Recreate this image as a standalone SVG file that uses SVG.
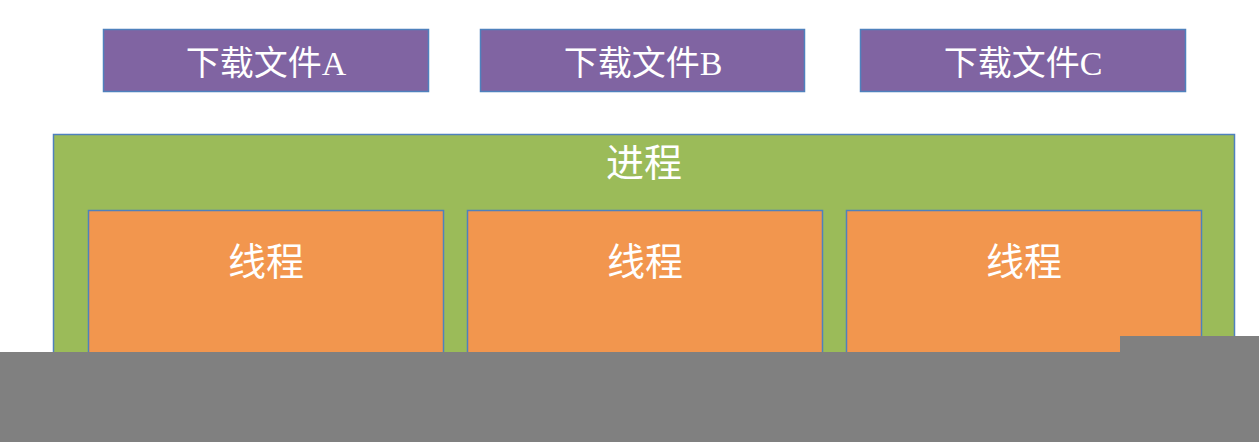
<svg xmlns="http://www.w3.org/2000/svg" width="1259" height="442" viewBox="0 0 1259 442">
<style>
.file rect{fill:#8064A2;stroke:#4F81BD;stroke-width:1.5}
.file text{fill:#fff;font-family:"Liberation Serif","Noto Sans CJK SC",serif;font-size:34px;text-anchor:middle}
.thread rect{fill:#F2964E;stroke:#4F81BD;stroke-width:1.5}
.thread text,#process text{fill:#fff;font-family:"Liberation Serif","Noto Sans CJK SC",serif;font-size:38px;text-anchor:middle}
#process rect{fill:#9BBB59;stroke:#4F81BD;stroke-width:1.5}
</style>
<rect width="1259" height="442" fill="#fff"/>
<g id="fileA" class="file"><rect x="103.5" y="29.5" width="325" height="62"/><text x="266" y="75">下载文件A</text></g>
<g id="fileB" class="file"><rect x="480.5" y="29.5" width="324" height="62"/><text x="643" y="75">下载文件B</text></g>
<g id="fileC" class="file"><rect x="860.5" y="29.5" width="325" height="62"/><text x="1023" y="75">下载文件C</text></g>
<g id="process"><rect x="53.5" y="134.5" width="1181" height="300"/><text x="644" y="176">进程</text></g>
<g id="thread1" class="thread"><rect x="88.5" y="210.5" width="355" height="200"/><text x="266" y="275">线程</text></g>
<g id="thread2" class="thread"><rect x="467.5" y="210.5" width="355" height="200"/><text x="645" y="275">线程</text></g>
<g id="thread3" class="thread"><rect x="846.5" y="210.5" width="355" height="200"/><text x="1024" y="275">线程</text></g>
<g id="connectors"></g>
<path d="M0 352H1120V336H1259V442H0Z" fill="#808080"/>
</svg>
